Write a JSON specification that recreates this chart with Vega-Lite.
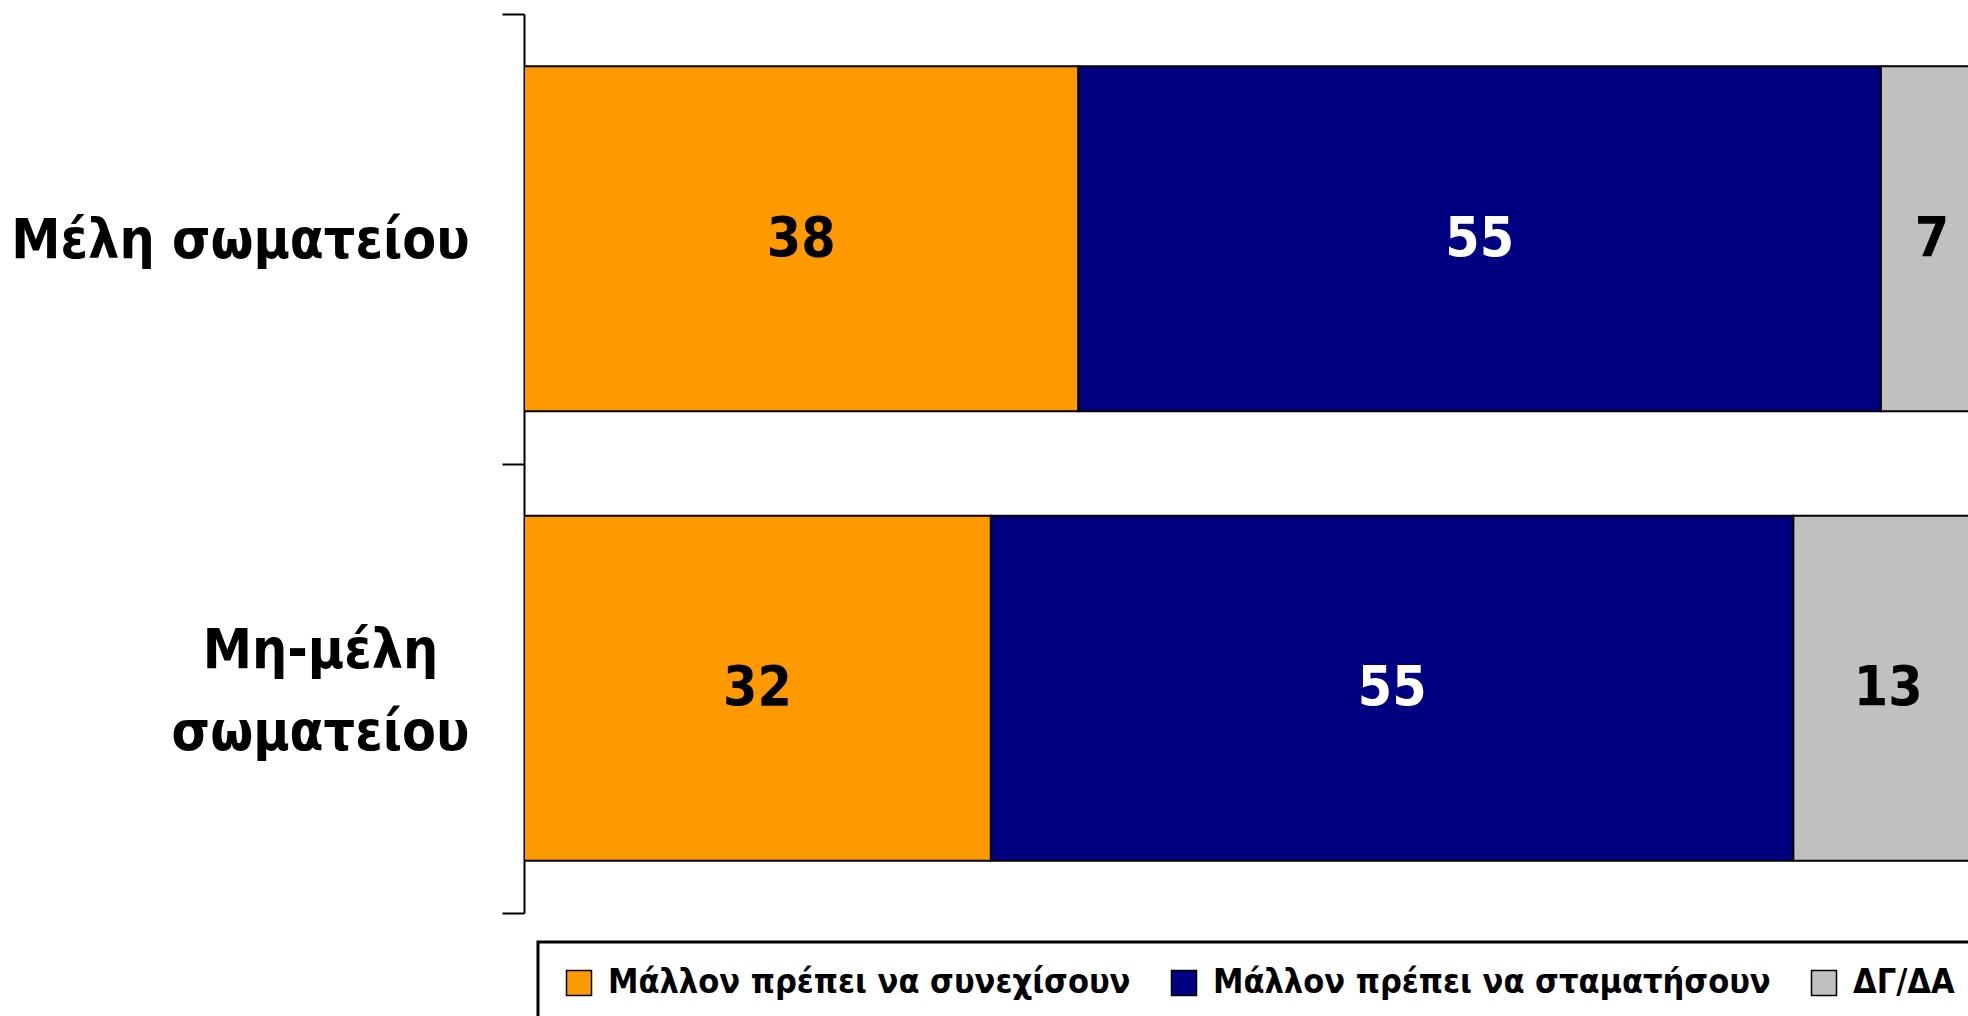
{
  "$schema": "https://vega.github.io/schema/vega-lite/v6.json",
  "width": 1444,
  "height": 899,
  "autosize": {"type": "none"},
  "padding": {"left": 524, "top": 14, "right": 0, "bottom": 103},
  "background": "white",
  "config": {"view": {"stroke": null}, "font": "DejaVu Sans Condensed, Liberation Sans, sans-serif", "legend": {"strokeWidth": 3}},
  "data": {
    "values": [
      {"group": "Μέλη σωματείου", "answer": "Μάλλον πρέπει να συνεχίσουν", "value": 38},
      {"group": "Μέλη σωματείου", "answer": "Μάλλον πρέπει να σταματήσουν", "value": 55},
      {"group": "Μέλη σωματείου", "answer": "ΔΓ/ΔΑ", "value": 7},
      {"group": "Μη-μέλη σωματείου", "answer": "Μάλλον πρέπει να συνεχίσουν", "value": 32},
      {"group": "Μη-μέλη σωματείου", "answer": "Μάλλον πρέπει να σταματήσουν", "value": 55},
      {"group": "Μη-μέλη σωματείου", "answer": "ΔΓ/ΔΑ", "value": 13}
    ]
  },
  "encoding": {
    "y": {
      "field": "group",
      "type": "nominal",
      "sort": null,
      "title": null,
      "scale": {"paddingInner": 0, "paddingOuter": 0},
      "axis": {
        "domainColor": "black",
        "domainWidth": 2,
        "tickColor": "black",
        "tickWidth": 2,
        "tickSize": 22,
        "tickBand": "extent",
        "labelFont": "DejaVu Sans Condensed, Liberation Sans, sans-serif",
        "labelFontWeight": "bold",
        "labelFontSize": 55,
        "labelColor": "black",
        "labelLimit": 0,
        "labelAlign": "center",
        "labelBaseline": "middle",
        "labelLineHeight": 82,
        "labelPadding": {"condition": {"test": "datum.value == 'Μέλη σωματείου'", "value": 262}, "value": 182},
        "labelOffset": {"condition": {"test": "datum.value == 'Μη-μέλη σωματείου'", "value": -38}, "value": 2},
        "labelExpr": "datum.value == 'Μη-μέλη σωματείου' ? ['Μη-μέλη', 'σωματείου'] : datum.value"
      }
    },
    "x": {
      "field": "value",
      "type": "quantitative",
      "stack": "zero",
      "scale": {"domain": [0, 98.97], "nice": false, "zero": true},
      "axis": null
    },
    "order": {"field": "answer", "sort": "descending"}
  },
  "layer": [
    {
      "mark": {"type": "bar", "stroke": "black", "strokeWidth": 2, "clip": true, "height": {"band": 0.767}},
      "encoding": {
        "color": {
          "field": "answer",
          "type": "nominal",
          "scale": {
            "domain": ["Μάλλον πρέπει να συνεχίσουν", "Μάλλον πρέπει να σταματήσουν", "ΔΓ/ΔΑ"],
            "range": ["#FF9900", "#000080", "#C0C0C0"]
          },
          "legend": {
            "title": null,
            "orient": "none",
            "legendX": 14,
            "legendY": 928,
            "direction": "horizontal",
            "columns": 3,
            "strokeColor": "black",
            "fillColor": "white",
            "padding": 24,
            "symbolType": "square",
            "symbolSize": 625,
            "symbolStrokeColor": "black",
            "symbolStrokeWidth": 1.5,
            "symbolOpacity": 1,
            "labelFont": "DejaVu Sans Condensed, Liberation Sans, sans-serif",
            "labelFontWeight": "bold",
            "labelFontSize": 34,
            "labelColor": "black",
            "labelLimit": 2000,
            "labelOffset": 12,
            "columnPadding": 36
          }
        }
      }
    },
    {
      "mark": {"type": "text", "font": "DejaVu Sans Condensed, Liberation Sans, sans-serif", "fontWeight": "bold", "fontSize": 55, "baseline": "middle", "align": "center"},
      "encoding": {
        "x": {"field": "value", "type": "quantitative", "stack": "zero", "bandPosition": 0.5},
        "detail": {"field": "answer"},
        "text": {"field": "value", "type": "quantitative"},
        "color": {"condition": {"test": "datum.answer == 'Μάλλον πρέπει να σταματήσουν'", "value": "white"}, "value": "black"}
      }
    }
  ]
}
